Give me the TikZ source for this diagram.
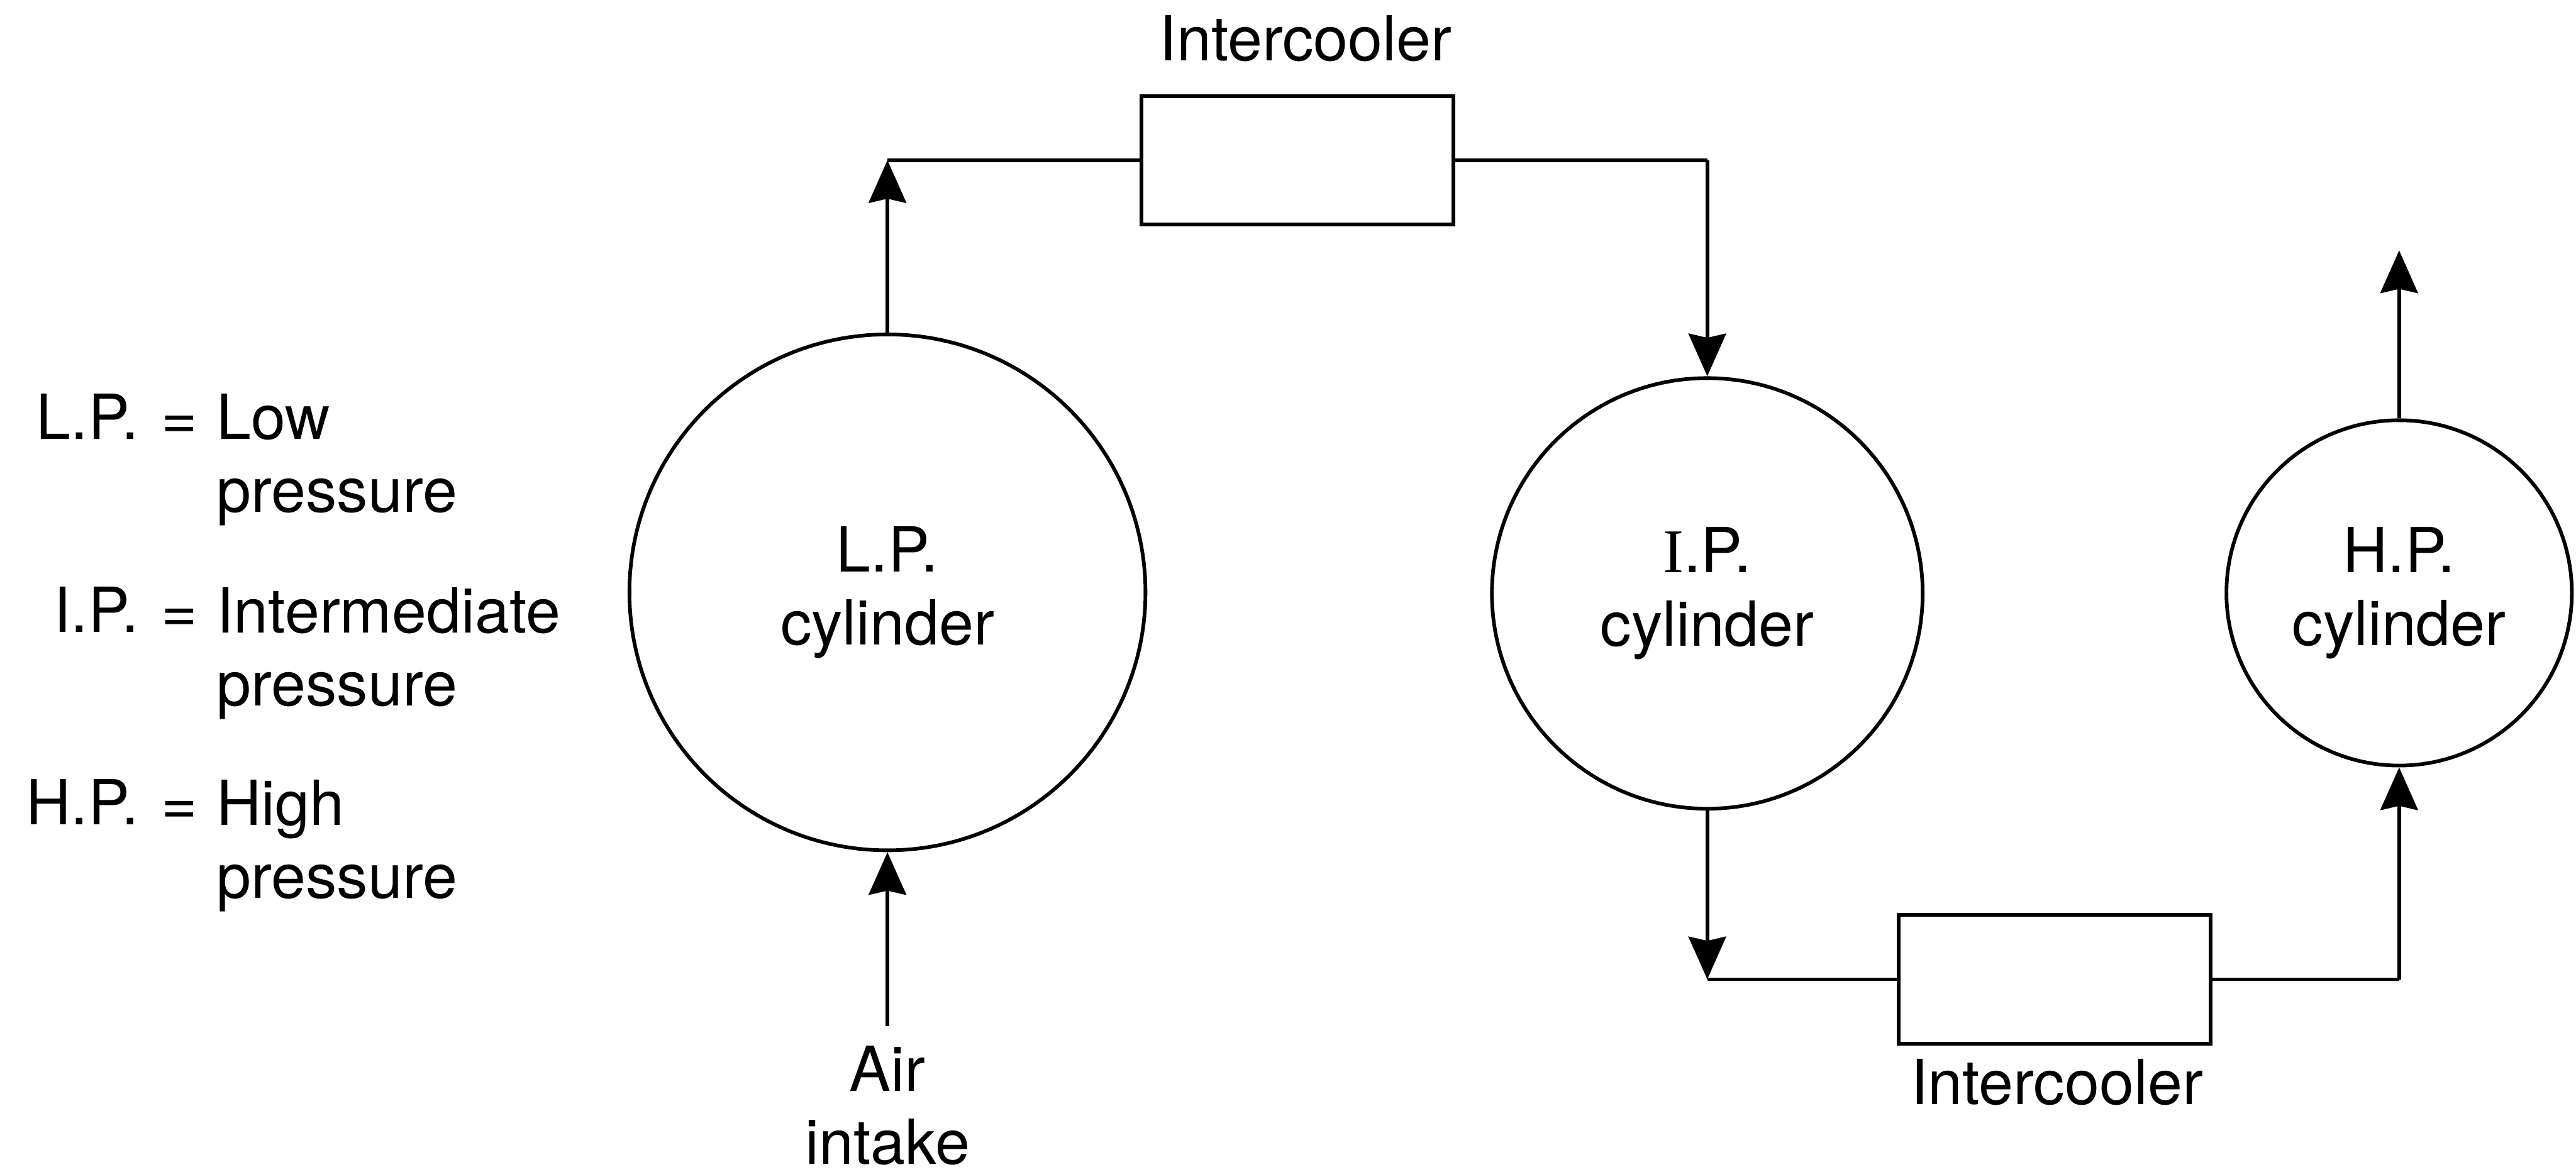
\documentclass[tikz,border=0pt]{standalone}
\usepackage{fontspec}
\setmainfont{TeX Gyre Heros}
\newfontfamily\romanI{Liberation Serif}
\usepackage{tikz}
\usetikzlibrary{arrows.meta,positioning}

\begin{document}
\begin{tikzpicture}[every node/.style={font=\fontsize{34}{40}\selectfont, inner sep=0pt}, line width=2pt,
  cyl/.style={circle, draw, align=center},
  cooler/.style={draw, minimum width=6cm, minimum height=2.47cm},
  flow/.style={-{Stealth[length=8.2mm, width=7.2mm, inset=0.8mm]}}]
\useasboundingbox (0,0) rectangle (49.52,-22.53);
% Cylinders
\node[cyl, minimum size=9.92cm] (lp) at (17.06,-11.39) {L.P.\\cylinder};
\node[cyl, minimum size=8.28cm] (ip) at (32.82,-11.41) {{\romanI I}.P.\\cylinder};
\node[cyl, minimum size=6.64cm] (hp) at (46.12,-11.40) {H.P.\\cylinder};
% Intercoolers
\node[cooler] (ic1) at (24.94,-3.08) {};
\node[cooler] (ic2) at (39.50,-18.83) {};
\node[anchor=base] (ic1lbl) at (25.10,-1.17) {Intercooler};
\node[anchor=base] (ic2lbl) at (39.54,-21.24) {Intercooler};
% Key (base of a two-line node = its second line)
\node[anchor=base east] (lpkey) at (2.70,-8.44) {L.P.};
\node[anchor=base] (lpeq) at (3.45,-8.44) {=};
\node[anchor=base west, align=left] (lpval) at (4.13,-9.85) {Low\\pressure};
\node[anchor=base east] (ipkey) at (2.70,-12.16) {I.P.};
\node[anchor=base] (ipeq) at (3.45,-12.16) {=};
\node[anchor=base west, align=left] (ipval) at (4.13,-13.57) {Intermediate\\pressure};
\node[anchor=base east] (hpkey) at (2.70,-15.86) {H.P.};
\node[anchor=base] (hpeq) at (3.45,-15.86) {=};
\node[anchor=base west, align=left] (hpval) at (4.13,-17.27) {High\\pressure};
% Pipe corners
\coordinate (tl) at (lp.north |- ic1.west);
\coordinate (tr) at (ip.north |- ic1.east);
\coordinate (bl) at (ip.south |- ic2.west);
\coordinate (br) at (hp.south |- ic2.east);
\coordinate (intake) at ([yshift=-3.34cm]lp.south);
\coordinate (outlet) at ([yshift=3.23cm]hp.north);
% Air path
\draw[flow] (intake) -- (lp.south);
\node[anchor=base, align=center] (air) at ([yshift=-2.66cm]intake) {Air\\intake};
\draw[flow] (lp.north) -- (tl);
\draw (tl) -- (ic1.west);
\draw (ic1.east) -- (tr);
\draw[flow] (tr) -- (ip.north);
\draw[flow] (ip.south) -- (bl);
\draw (bl) -- (ic2.west);
\draw (ic2.east) -- (br);
\draw[flow] (br) -- (hp.south);
\draw[flow] (hp.north) -- (outlet);
\end{tikzpicture}
\end{document}
